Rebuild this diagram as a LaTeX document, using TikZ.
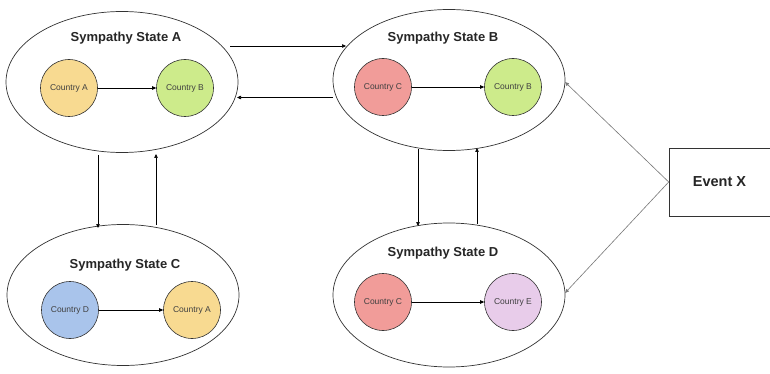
\documentclass[tikz,border=0pt]{standalone}
\usepackage{fontspec}
\setmainfont{Liberation Sans}
\usetikzlibrary{arrows.meta,shapes.geometric}
\definecolor{cyellow}{HTML}{F8DA91}
\definecolor{cgreen}{HTML}{CDEB8B}
\definecolor{cred}{HTML}{F19C99}
\definecolor{cblue}{HTML}{A9C4EB}
\definecolor{cpurple}{HTML}{E8CCEA}
\definecolor{lineg}{HTML}{333333}
\definecolor{evg}{HTML}{777777}
\begin{document}
\begin{tikzpicture}[x=1pt,y=-1pt,
  statebox/.style={draw=lineg,line width=0.7pt,ellipse,minimum width=232pt,minimum height=141pt,inner sep=0pt},
  country/.style={draw=lineg,line width=0.6pt,circle,minimum size=57pt,inner sep=0pt,font=\fontsize{8.5}{10}\selectfont,text=black!75},
  title/.style={font=\bfseries\fontsize{13}{15}\selectfont,text=black!85},
  link/.style={-{Triangle[length=4pt,width=3.5pt]},line width=0.6pt,draw=black},
  evlink/.style={-{Triangle[length=4pt,width=3.5pt]},line width=0.6pt,draw=evg}]
\useasboundingbox (0,0) rectangle (770,374);
\fill[white] (0,0) rectangle (770,374);

% state ellipses
\node[statebox] (SA) at (122,82) {};
\node[statebox] (SB) at (449,80) {};
\node[statebox] (SC) at (123,295) {};
\node[statebox,minimum height=144pt] (SD) at (449,295) {};

% titles
\node[title] (tA) at (126,38) {Sympathy State A};
\node[title] (tB) at (443,38) {Sympathy State B};
\node[title] (tC) at (125,265) {Sympathy State C};
\node[title] (tD) at (443,253) {Sympathy State D};

% countries
\node[country,fill=cyellow] (a1) at (69,88) {Country A};
\node[country,fill=cgreen] (a2) at (185,88) {Country B};
\node[country,fill=cred] (b1) at (383,87) {Country C};
\node[country,fill=cgreen] (b2) at (513,87) {Country B};
\node[country,fill=cblue] (c1) at (70,310) {Country D};
\node[country,fill=cyellow] (c2) at (192,310) {Country A};
\node[country,fill=cred] (d1) at (383,302) {Country C};
\node[country,fill=cpurple] (d2) at (513,302) {Country E};

\draw[link] (a1) -- (a2);
\draw[link] (b1) -- (b2);
\draw[link] (c1) -- (c2);
\draw[link] (d1) -- (d2);

% event box
\node[draw=lineg,line width=0.6pt,minimum width=101pt,minimum height=68pt,inner sep=0pt,
      font=\bfseries\fontsize{14.5}{16}\selectfont,text=black!85] (EX) at (719.5,182) {Event X};

% transitions between states
\coordinate (p1) at (230,46);  \coordinate (p2) at (346,46);
\coordinate (p3) at (333,97.5);  \coordinate (p4) at (237,97.5);
\coordinate (p5) at (98,155);  \coordinate (p6) at (98,228);
\coordinate (p7) at (156,225); \coordinate (p8) at (156,154);
\coordinate (p9) at (418,149); \coordinate (p10) at (418,226);
\coordinate (p11) at (477,224); \coordinate (p12) at (477,148);
\coordinate (q1) at (565,82);  \coordinate (q2) at (565,293);

\draw[link] (p1) -- (p2);
\draw[link] (p3) -- (p4);
\draw[link] (p5) -- (p6);
\draw[link] (p7) -- (p8);
\draw[link] (p9) -- (p10);
\draw[link] (p11) -- (p12);
\draw[evlink] (EX.west) -- (q1);
\draw[evlink] (EX.west) -- (q2);
\end{tikzpicture}
\end{document}
